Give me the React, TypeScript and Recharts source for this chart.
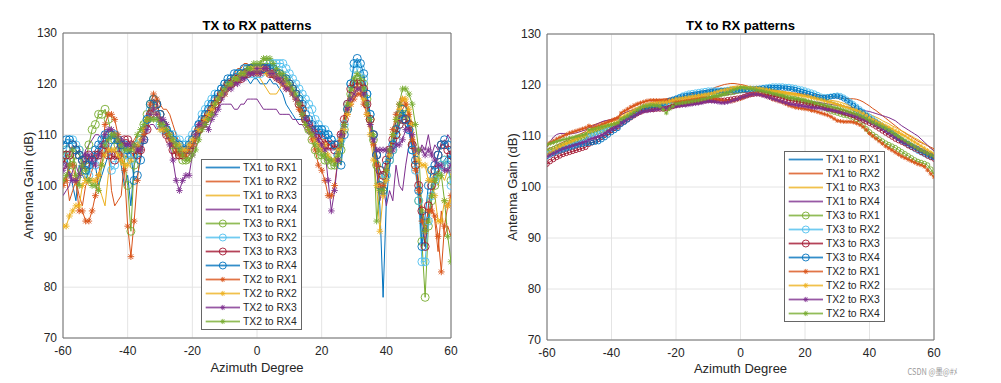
import React from 'react';
import { LineChart, Line, XAxis, YAxis, CartesianGrid, ReferenceArea } from 'recharts';

const FONT = '"Liberation Sans", Arial, Helvetica, sans-serif';

const degrees = [
  -60, -59, -58, -57, -56, -55, -54, -53, -52, -51,
  -50, -49, -48, -47, -46, -45, -44, -43, -42, -41,
  -40, -39, -38, -37, -36, -35, -34, -33, -32, -31,
  -30, -29, -28, -27, -26, -25, -24, -23, -22, -21,
  -20, -19, -18, -17, -16, -15, -14, -13, -12, -11,
  -10, -9, -8, -7, -6, -5, -4, -3, -2, -1,
  0, 1, 2, 3, 4, 5, 6, 7, 8, 9,
  10, 11, 12, 13, 14, 15, 16, 17, 18, 19,
  20, 21, 22, 23, 24, 25, 26, 27, 28, 29,
  30, 31, 32, 33, 34, 35, 36, 37, 38, 39,
  40, 41, 42, 43, 44, 45, 46, 47, 48, 49,
  50, 51, 52, 53, 54, 55, 56, 57, 58, 59,
  60,
];

const seriesNames = [
  'TX1 to RX1', 'TX1 to RX2', 'TX1 to RX3', 'TX1 to RX4',
  'TX3 to RX1', 'TX3 to RX2', 'TX3 to RX3', 'TX3 to RX4',
  'TX2 to RX1', 'TX2 to RX2', 'TX2 to RX3', 'TX2 to RX4',
];
const seriesColors = [
  '#0072BD', '#D95319', '#EDB120', '#7E2F8E',
  '#77AC30', '#4DBEEE', '#A2142F', '#0072BD',
  '#D95319', '#EDB120', '#7E2F8E', '#77AC30',
];
const seriesMarkers = [
  'none', 'none', 'none', 'none',
  'circle', 'circle', 'circle', 'circle',
  'star', 'star', 'star', 'star',
];

const xTicks = [-60, -40, -20, 0, 20, 40, 60];
const yTicks = [70, 80, 90, 100, 110, 120, 130];

// ---------- Left panel (raw patterns) ----------
const leftTx1Rx1 = [
  104, 106, 103, 100, 97, 104, 102, 101, 103, 105,
  104, 100, 102, 104, 106, 108, 109, 108, 104, 100,
  102, 96, 104, 106, 108, 111, 114, 116, 118, 117,
  113, 110, 110, 109, 108, 107, 106, 107, 108, 108,
  109, 110, 112, 113, 114, 115, 116, 117, 118, 119,
  119, 119, 120, 120, 121, 121, 121, 121, 120, 121,
  121, 120, 120, 120, 121, 120, 120, 119, 118, 116,
  115, 114, 113, 113, 113, 112, 112, 111, 110, 110,
  110, 110, 109, 108, 107, 108, 110, 113, 116, 119,
  121, 122, 121, 119, 116, 113, 109, 104, 96, 78,
  97, 104, 108, 110, 112, 114, 114, 111, 108, 104,
  98, 92, 88, 93, 98, 102, 103, 104, 105, 106,
  105,
];
const leftTx1Rx2 = [
  100, 102, 97, 99, 101, 98, 96, 100, 101, 103,
  105, 107, 108, 110, 107, 99, 96, 97, 98, 105,
  106, 108, 109, 110, 111, 112, 113, 115, 116, 117,
  116, 115, 115, 114, 112, 110, 108, 107, 106, 107,
  108, 110, 111, 112, 113, 114, 115, 116, 117, 118,
  119, 120, 121, 122, 123, 123, 124, 124, 123, 123,
  123, 123, 122, 122, 122, 121, 121, 120, 120, 119,
  119, 118, 117, 116, 115, 114, 112, 111, 110, 110,
  109, 109, 108, 108, 107, 108, 111, 114, 117, 119,
  120, 120, 120, 119, 116, 113, 109, 104, 100, 98,
  101, 105, 109, 111, 113, 115, 116, 114, 110, 106,
  101, 96, 92, 95, 96, 93, 87, 95, 90, 92,
  90,
];
const leftTx1Rx3 = [
  101, 102, 103, 102, 100, 101, 103, 101, 100, 100,
  101, 100, 98, 96, 102, 106, 107, 106, 104, 105,
  107, 106, 106, 107, 109, 110, 111, 113, 115, 116,
  114, 112, 111, 110, 109, 108, 108, 107, 107, 108,
  109, 110, 112, 113, 114, 115, 116, 117, 118, 119,
  119, 120, 120, 121, 121, 121, 122, 122, 122, 122,
  122, 121, 120, 119, 118, 118, 118, 119, 120, 120,
  119, 118, 117, 115, 113, 112, 111, 111, 110, 108,
  107, 106, 106, 105, 105, 106, 108, 111, 114, 117,
  119, 120, 119, 118, 116, 113, 110, 106, 102, 101,
  103, 106, 108, 111, 114, 116, 116, 113, 109, 105,
  105, 104, 104, 103, 102, 101, 100, 102, 101, 103,
  102,
];
const leftTx1Rx4 = [
  98, 99, 100, 103, 104, 102, 105, 107, 108, 109,
  110, 110, 109, 108, 107, 106, 107, 108, 109, 108,
  107, 106, 106, 107, 108, 110, 111, 112, 112, 111,
  112, 113, 112, 111, 110, 109, 108, 107, 107, 107,
  108, 109, 110, 111, 112, 113, 114, 114, 115, 116,
  116, 116, 116, 115, 115, 116, 116, 117, 117, 117,
  117, 116, 115, 115, 115, 115, 115, 114, 114, 114,
  114, 113, 113, 112, 112, 111, 110, 110, 109, 109,
  108, 108, 107, 107, 107, 108, 110, 112, 114, 116,
  117, 118, 118, 117, 114, 111, 108, 103, 97, 100,
  96, 99, 97, 104, 100, 99, 104, 108, 109, 107,
  106, 108, 107, 110, 106, 108, 107, 108, 108, 110,
  109,
];
const leftTx3Rx1 = [
  106, 107, 105, 104, 106, 107, 103, 105, 108, 111,
  112, 114, 114, 115, 113, 110, 109, 108, 107, 105,
  100, 91, 104, 107, 109, 112, 114, 116, 117, 116,
  114, 112, 111, 110, 108, 107, 106, 105, 105, 106,
  107, 109, 111, 112, 113, 114, 115, 116, 117, 118,
  119, 120, 120, 121, 121, 122, 122, 122, 123, 123,
  123, 123, 124, 124, 124, 123, 122, 122, 121, 121,
  120, 119, 118, 117, 115, 113, 111, 109, 107, 106,
  106, 105, 105, 104, 104, 105, 107, 111, 115, 118,
  120, 121, 121, 120, 117, 113, 109, 104, 100, 99,
  102, 105, 107, 110, 113, 115, 114, 112, 108, 104,
  97, 89, 78, 92, 97, 100, 102, 104, 105, 104,
  101,
];
const leftTx3Rx2 = [
  105, 107, 109, 109, 108, 107, 105, 104, 102, 105,
  104, 106, 108, 109, 107, 103, 104, 106, 107, 107,
  106, 105, 106, 108, 109, 111, 113, 115, 116, 114,
  112, 111, 111, 110, 110, 109, 109, 108, 108, 109,
  110, 111, 112, 114, 115, 116, 117, 118, 118, 119,
  120, 120, 121, 121, 122, 122, 122, 122, 122, 122,
  122, 122, 123, 123, 124, 124, 124, 124, 124, 123,
  122, 121, 120, 119, 118, 117, 116, 115, 113, 112,
  111, 111, 110, 109, 108, 108, 109, 112, 116, 120,
  123, 124, 123, 121, 118, 114, 110, 106, 103, 101,
  102, 105, 107, 109, 112, 113, 113, 111, 107, 103,
  97, 85, 85, 93, 98, 101, 103, 104, 105, 104,
  100,
];
const leftTx3Rx3 = [
  104, 106, 106, 108, 107, 106, 105, 104, 106, 105,
  106, 106, 107, 108, 106, 106, 105, 106, 108, 109,
  109, 108, 107, 106, 107, 109, 111, 114, 116, 116,
  114, 112, 110, 109, 107, 106, 106, 106, 107, 107,
  108, 110, 111, 112, 113, 114, 115, 116, 117, 118,
  119, 120, 120, 121, 121, 121, 122, 122, 123, 123,
  123, 123, 123, 123, 122, 122, 122, 121, 121, 120,
  120, 119, 118, 116, 115, 113, 112, 111, 110, 110,
  109, 108, 108, 108, 107, 108, 110, 113, 116, 119,
  120, 120, 120, 119, 116, 113, 110, 106, 103, 102,
  105, 107, 109, 110, 112, 113, 113, 112, 108, 104,
  100, 95, 88, 96, 100, 103, 106, 108, 108, 107,
  106,
];
const leftTx3Rx4 = [
  108, 109, 109, 108, 107, 106, 105, 103, 104, 105,
  107, 108, 109, 110, 110, 109, 110, 109, 108, 108,
  107, 106, 101, 102, 105, 109, 113, 116, 117, 116,
  114, 112, 111, 110, 109, 108, 108, 107, 107, 108,
  109, 110, 112, 113, 114, 115, 116, 117, 118, 119,
  120, 121, 121, 122, 122, 122, 123, 123, 123, 123,
  123, 123, 123, 123, 123, 123, 122, 122, 121, 121,
  120, 119, 118, 117, 116, 114, 113, 112, 111, 111,
  111, 110, 110, 109, 108, 106, 104, 110, 115, 120,
  124, 125, 124, 122, 118, 114, 110, 106, 100, 99,
  104, 106, 108, 111, 114, 115, 113, 111, 107, 105,
  99, 88, 94, 100, 103, 104, 106, 108, 109, 108,
  105,
];
const leftTx2Rx1 = [
  100, 101, 104, 104, 101, 95, 95, 93, 93, 95,
  98, 102, 106, 112, 114, 114, 113, 110, 106, 103,
  92, 86, 93, 101, 107, 110, 113, 116, 118, 117,
  113, 111, 110, 109, 108, 107, 106, 106, 106, 107,
  108, 109, 111, 112, 113, 114, 115, 116, 117, 118,
  118, 119, 120, 120, 121, 121, 122, 122, 122, 122,
  122, 122, 123, 123, 122, 122, 121, 121, 120, 119,
  119, 118, 117, 115, 114, 112, 111, 109, 107, 104,
  103, 101, 98, 98, 100, 105, 110, 112, 114, 116,
  117, 118, 118, 116, 114, 112, 108, 104, 100, 100,
  103, 107, 111, 114, 116, 117, 116, 114, 109, 103,
  99, 93, 91, 95, 95, 94, 90, 83, 92, 96,
  98,
];
const leftTx2Rx2 = [
  92, 92, 94, 95, 96, 96, 100, 101, 101, 101,
  101, 102, 104, 106, 107, 107, 107, 106, 105, 104,
  104, 105, 107, 108, 109, 111, 113, 114, 115, 114,
  111, 111, 111, 110, 109, 108, 108, 107, 107, 108,
  109, 110, 111, 112, 113, 114, 115, 116, 117, 118,
  118, 119, 120, 121, 121, 122, 122, 122, 123, 123,
  123, 123, 123, 122, 122, 122, 121, 121, 120, 120,
  119, 118, 117, 116, 114, 112, 111, 110, 109, 108,
  107, 108, 106, 105, 105, 107, 109, 111, 114, 116,
  118, 119, 119, 117, 114, 110, 105, 100, 91, 98,
  101, 106, 110, 113, 115, 117, 117, 115, 112, 107,
  105, 104, 104, 101, 101, 98, 93, 93, 97, 96,
  97,
];
const leftTx2Rx3 = [
  103, 104, 102, 101, 101, 102, 104, 106, 106, 105,
  104, 106, 108, 110, 111, 111, 110, 109, 109, 108,
  108, 108, 108, 107, 107, 109, 111, 114, 115, 114,
  113, 113, 112, 108, 105, 101, 99, 101, 102, 102,
  106, 110, 112, 112, 112, 111, 113, 114, 115, 117,
  118, 119, 119, 120, 120, 121, 121, 122, 122, 122,
  123, 122, 123, 123, 122, 122, 121, 121, 120, 119,
  119, 118, 117, 116, 114, 113, 112, 111, 110, 109,
  108, 107, 101, 95, 99, 105, 110, 112, 115, 117,
  118, 119, 119, 118, 116, 112, 109, 107, 107, 107,
  107, 107, 107, 108, 108, 109, 111, 111, 110, 107,
  107, 107, 106, 107, 106, 105, 104, 104, 103, 103,
  104,
];
const leftTx2Rx4 = [
  101, 102, 104, 107, 102, 100, 104, 103, 101, 100,
  100, 99, 104, 108, 109, 110, 110, 109, 108, 107,
  107, 107, 108, 110, 111, 112, 113, 113, 113, 113,
  112, 112, 111, 110, 109, 108, 107, 106, 105, 105,
  106, 107, 109, 111, 112, 113, 114, 116, 117, 118,
  119, 120, 120, 121, 121, 122, 122, 123, 123, 124,
  124, 124, 125, 125, 125, 124, 123, 122, 122, 121,
  120, 119, 118, 116, 114, 112, 111, 110, 108, 107,
  106, 106, 105, 105, 104, 106, 108, 112, 116, 119,
  121, 122, 121, 119, 116, 113, 110, 93, 99, 99,
  103, 107, 110, 113, 116, 119, 119, 118, 116, 112,
  107, 95, 91, 93, 98, 101, 102, 102, 97, 90,
  85,
];

// ---------- Right panel (calibrated patterns) ----------
const rightTx1Rx1 = [
  106.5, 106.8, 107.1, 107.4, 107.6, 107.9, 108.1, 108.4, 108.6, 108.8,
  109.0, 109.2, 109.4, 110.6, 110.8, 111.0, 111.2, 111.4, 111.6, 111.8,
  112.0, 112.2, 112.4, 113.5, 113.8, 114.1, 114.4, 114.7, 115.0, 115.3,
  115.6, 115.8, 115.9, 116.0, 116.1, 116.2, 116.3, 116.6, 116.9, 117.1,
  117.3, 117.5, 117.7, 117.9, 118.1, 118.3, 118.4, 118.5, 118.6, 118.7,
  118.8, 118.9, 119.0, 119.1, 119.2, 119.3, 119.3, 119.4, 119.4, 119.5,
  119.5, 119.5, 119.4, 119.3, 119.3, 119.3, 119.3, 119.4, 119.4, 119.5,
  119.5, 119.5, 119.4, 119.4, 119.3, 119.2, 119.1, 118.9, 118.8, 118.6,
  118.5, 118.3, 118.0, 117.8, 117.6, 117.3, 117.1, 116.9, 116.7, 116.5,
  116.3, 116.1, 115.9, 115.6, 115.3, 115.0, 114.6, 114.2, 113.8, 113.4,
  113.0, 112.6, 112.2, 111.8, 111.4, 111.0, 110.6, 110.2, 109.8, 109.4,
  109.0, 108.7, 108.3, 108.0, 107.6, 107.3, 107.0, 106.7, 106.4, 106.1,
  105.8,
];
const rightTx1Rx2 = [
  107.3, 107.6, 107.9, 108.2, 108.5, 108.8, 109.1, 109.4, 109.7, 110.0,
  110.3, 110.6, 110.9, 111.9, 112.1, 112.3, 112.5, 112.7, 112.9, 113.1,
  113.3, 113.5, 113.7, 114.6, 114.9, 115.2, 115.5, 115.8, 116.1, 116.4,
  116.7, 116.9, 117.0, 117.1, 117.1, 117.1, 117.2, 117.3, 117.4, 117.5,
  117.6, 117.7, 117.8, 117.9, 118.1, 118.3, 118.5, 118.7, 118.8, 118.9,
  119.0, 119.2, 119.5, 119.7, 119.9, 120.1, 120.2, 120.3, 120.3, 120.2,
  120.1, 120.0, 119.8, 119.6, 119.5, 119.5, 119.4, 119.3, 119.2, 119.1,
  119.0, 118.9, 118.8, 118.7, 118.6, 118.5, 118.4, 118.4, 118.3, 118.3,
  118.2, 118.2, 118.1, 118.1, 118.0, 118.0, 117.9, 117.8, 117.7, 117.6,
  117.5, 117.4, 117.4, 117.4, 117.3, 117.3, 117.2, 117.0, 116.7, 116.3,
  115.9, 115.4, 115.0, 114.5, 114.0, 113.5, 113.0, 112.5, 112.0, 111.5,
  111.0, 110.6, 110.2, 109.8, 109.4, 109.0, 108.7, 108.4, 108.1, 107.8,
  107.5,
];
const rightTx1Rx3 = [
  107.0, 107.3, 107.6, 107.9, 108.2, 108.5, 108.7, 109.0, 109.3, 109.6,
  109.9, 110.2, 110.5, 111.2, 111.4, 111.6, 111.9, 112.1, 112.3, 112.6,
  112.8, 113.0, 113.2, 114.1, 114.4, 114.7, 115.0, 115.3, 115.6, 115.9,
  116.2, 116.4, 116.5, 116.6, 116.7, 116.8, 116.9, 117.0, 117.1, 117.3,
  117.4, 117.5, 117.6, 117.7, 117.8, 117.9, 118.0, 118.1, 118.2, 118.3,
  118.4, 118.5, 118.7, 118.9, 119.1, 119.3, 119.5, 119.6, 119.7, 119.8,
  119.8, 119.8, 119.7, 119.7, 119.6, 119.6, 119.5, 119.4, 119.3, 119.2,
  119.0, 118.9, 118.8, 118.7, 118.6, 118.5, 118.4, 118.3, 118.2, 118.1,
  118.0, 117.9, 117.8, 117.6, 117.5, 117.4, 117.3, 117.2, 117.0, 116.9,
  116.8, 116.6, 116.4, 116.2, 115.9, 115.6, 115.3, 115.0, 114.8, 114.5,
  114.3, 114.0, 113.7, 113.4, 113.0, 112.7, 112.4, 112.0, 111.7, 111.3,
  111.0, 110.7, 110.3, 110.0, 109.6, 109.3, 108.9, 108.5, 108.1, 107.6,
  107.2,
];
const rightTx1Rx4 = [
  107.8, 108.9, 109.8, 110.3, 110.5, 110.5, 110.4, 110.4, 110.5, 110.6,
  110.8, 111.0, 111.2, 111.6, 111.9, 112.2, 112.5, 112.8, 113.0, 113.1,
  113.2, 113.3, 113.4, 114.2, 114.5, 114.8, 115.0, 115.2, 115.4, 115.6,
  115.8, 115.9, 116.0, 116.0, 116.1, 116.2, 116.2, 116.3, 116.4, 116.5,
  116.6, 116.7, 116.8, 116.9, 117.0, 117.0, 117.1, 117.2, 117.3, 117.4,
  117.5, 117.6, 117.7, 117.8, 117.9, 118.0, 118.1, 118.2, 118.3, 118.4,
  118.5, 118.5, 118.5, 118.4, 118.4, 118.3, 118.3, 118.2, 118.1, 118.0,
  118.0, 117.9, 117.8, 117.7, 117.6, 117.5, 117.4, 117.3, 117.2, 117.1,
  117.0, 116.9, 116.8, 116.7, 116.6, 116.5, 116.4, 116.3, 116.2, 116.1,
  116.0, 115.9, 115.8, 115.7, 115.6, 115.5, 115.4, 115.2, 115.1, 114.9,
  114.8, 114.6, 114.4, 114.2, 114.0, 113.8, 113.6, 113.3, 113.0, 112.5,
  112.0, 111.6, 111.2, 110.8, 110.4, 110.0, 109.4, 108.8, 108.2, 107.6,
  107.1,
];
const rightTx3Rx1 = [
  107.0, 107.3, 107.5, 107.8, 108.0, 108.2, 108.5, 108.7, 108.9, 109.2,
  109.4, 109.6, 109.8, 110.4, 110.6, 110.8, 111.0, 111.2, 111.4, 111.6,
  111.8, 112.0, 112.2, 113.0, 113.3, 113.6, 113.9, 114.2, 114.6, 114.9,
  115.2, 115.4, 115.5, 115.6, 115.7, 115.8, 115.9, 115.6, 116.0, 116.2,
  116.4, 116.5, 116.6, 116.7, 116.8, 116.9, 117.0, 117.1, 117.3, 117.4,
  117.6, 117.8, 117.9, 118.0, 118.2, 118.3, 118.4, 118.5, 118.6, 118.8,
  118.9, 119.0, 119.1, 119.2, 119.2, 119.2, 119.1, 119.0, 118.9, 118.7,
  118.5, 118.4, 118.2, 118.0, 117.8, 117.6, 117.4, 117.3, 117.1, 117.0,
  116.8, 116.6, 116.4, 116.2, 116.0, 115.8, 115.5, 115.2, 114.9, 114.7,
  114.5, 114.3, 114.1, 114.0, 113.8, 113.6, 113.2, 112.7, 112.1, 111.4,
  110.8, 110.3, 109.9, 109.4, 109.0, 108.6, 108.3, 108.0, 107.7, 107.3,
  106.9, 106.5, 106.1, 105.7, 105.3, 105.0, 104.8, 104.6, 104.3, 103.5,
  102.5,
];
const rightTx3Rx2 = [
  106.5, 106.7, 106.9, 107.1, 107.3, 107.5, 107.7, 107.9, 108.1, 108.3,
  108.5, 108.7, 108.9, 109.8, 110.0, 110.2, 110.4, 110.7, 111.0, 111.2,
  111.5, 111.8, 112.1, 113.0, 113.4, 113.8, 114.2, 114.6, 115.0, 115.4,
  115.8, 115.9, 116.0, 116.0, 116.0, 116.0, 116.1, 116.4, 116.8, 117.1,
  117.4, 117.7, 118.0, 118.2, 118.4, 118.5, 118.6, 118.7, 118.8, 118.9,
  119.0, 119.0, 119.0, 119.0, 119.0, 119.0, 119.1, 119.1, 119.1, 119.2,
  119.2, 119.2, 119.2, 119.3, 119.3, 119.3, 119.4, 119.5, 119.6, 119.7,
  119.8, 119.8, 119.8, 119.8, 119.7, 119.7, 119.6, 119.5, 119.3, 119.2,
  119.0, 118.8, 118.6, 118.4, 118.1, 117.8, 117.7, 117.7, 117.8, 117.9,
  118.0, 117.9, 117.6, 117.2, 116.8, 116.3, 115.8, 115.3, 114.8, 114.3,
  113.8, 113.4, 112.9, 112.4, 112.0, 111.5, 111.0, 110.5, 110.0, 109.5,
  109.0, 108.6, 108.2, 107.8, 107.4, 107.0, 106.7, 106.4, 106.1, 105.9,
  105.8,
];
const rightTx3Rx3 = [
  104.5, 105.0, 105.4, 105.8, 106.1, 106.4, 106.6, 106.8, 107.0, 107.2,
  107.4, 107.6, 107.8, 108.4, 108.7, 109.0, 109.4, 109.8, 110.2, 110.7,
  111.1, 111.5, 111.8, 112.4, 112.8, 113.2, 113.6, 114.0, 114.4, 114.7,
  115.0, 115.1, 115.2, 115.2, 115.3, 115.3, 115.3, 115.4, 115.6, 115.8,
  116.0, 116.1, 116.2, 116.3, 116.4, 116.5, 116.6, 116.7, 116.8, 116.9,
  117.0, 117.0, 117.0, 117.0, 117.0, 117.0, 117.1, 117.2, 117.3, 117.4,
  117.5, 117.7, 117.9, 118.1, 118.2, 118.3, 118.3, 118.2, 118.1, 118.0,
  117.8, 117.7, 117.5, 117.4, 117.2, 117.0, 116.9, 116.8, 116.7, 116.6,
  116.5, 116.4, 116.2, 116.1, 115.9, 115.8, 115.6, 115.4, 115.3, 115.1,
  115.0, 114.8, 114.6, 114.4, 114.2, 114.0, 113.7, 113.4, 113.1, 112.8,
  112.5, 112.2, 111.8, 111.4, 111.0, 110.6, 110.2, 109.8, 109.4, 109.1,
  108.8, 108.5, 108.1, 107.8, 107.5, 107.2, 106.8, 106.5, 106.1, 105.8,
  105.5,
];
const rightTx3Rx4 = [
  106.0, 106.3, 106.6, 106.9, 107.1, 107.3, 107.5, 107.7, 107.9, 108.1,
  108.3, 108.4, 108.5, 108.6, 108.7, 108.8, 108.9, 109.3, 109.7, 110.2,
  110.7, 111.1, 111.5, 112.3, 112.7, 113.2, 113.7, 114.2, 114.7, 115.1,
  115.5, 115.7, 115.9, 116.0, 116.1, 116.2, 116.4, 116.7, 117.0, 117.2,
  117.4, 117.6, 117.8, 117.9, 118.0, 118.1, 118.2, 118.3, 118.4, 118.5,
  118.6, 118.7, 118.8, 118.8, 118.9, 118.9, 118.9, 119.0, 119.0, 119.0,
  119.0, 119.1, 119.1, 119.2, 119.2, 119.3, 119.3, 119.4, 119.4, 119.5,
  119.5, 119.5, 119.5, 119.4, 119.4, 119.3, 119.2, 119.1, 118.9, 118.7,
  118.5, 118.3, 118.1, 117.9, 117.7, 117.5, 117.5, 117.6, 117.7, 117.8,
  117.8, 117.6, 117.3, 116.9, 116.5, 116.0, 115.5, 115.0, 114.5, 114.0,
  113.5, 113.1, 112.7, 112.3, 111.9, 111.5, 111.0, 110.6, 110.1, 109.6,
  109.2, 108.8, 108.5, 108.1, 107.8, 107.5, 107.1, 106.8, 106.4, 106.1,
  105.8,
];
const rightTx2Rx1 = [
  108.3, 108.7, 109.0, 109.4, 109.7, 110.0, 110.3, 110.6, 110.8, 111.0,
  111.2, 111.4, 111.6, 112.0, 111.6, 111.8, 112.0, 112.3, 112.5, 112.8,
  113.0, 113.3, 113.6, 114.5, 114.9, 115.3, 115.7, 116.0, 116.3, 116.5,
  116.7, 116.9, 117.0, 117.0, 117.0, 117.0, 117.0, 117.0, 116.9, 116.9,
  116.8, 116.8, 116.9, 117.0, 117.1, 117.2, 117.3, 117.4, 117.5, 117.5,
  117.5, 117.4, 117.3, 117.1, 117.0, 116.8, 116.8, 116.8, 116.9, 117.1,
  117.3, 117.6, 117.9, 118.1, 118.3, 118.3, 118.2, 118.0, 117.8, 117.5,
  117.2, 117.0, 116.8, 116.6, 116.3, 116.0, 115.8, 115.6, 115.5, 115.4,
  115.3, 115.2, 115.0, 114.9, 114.7, 114.5, 114.3, 114.1, 113.8, 113.4,
  113.0, 112.9, 112.8, 112.8, 112.8, 112.7, 112.5, 112.2, 111.8, 111.2,
  110.5, 110.0, 109.5, 109.0, 108.5, 108.0, 107.6, 107.2, 106.8, 106.4,
  106.0, 105.7, 105.4, 105.1, 104.8, 104.5, 104.3, 104.0, 103.3, 102.6,
  102.0,
];
const rightTx2Rx2 = [
  106.3, 106.7, 107.1, 107.5, 107.9, 108.2, 108.5, 108.8, 109.1, 109.4,
  109.7, 110.0, 110.2, 110.9, 111.1, 111.3, 111.5, 111.7, 111.9, 112.1,
  112.3, 112.5, 112.7, 113.6, 113.9, 114.3, 114.7, 115.0, 115.3, 115.6,
  115.9, 116.1, 116.2, 116.3, 116.4, 116.5, 116.6, 116.6, 116.8, 117.0,
  117.2, 117.3, 117.4, 117.5, 117.6, 117.7, 117.8, 117.9, 118.0, 118.1,
  118.2, 118.3, 118.5, 118.7, 118.9, 119.0, 119.1, 119.3, 119.4, 119.5,
  119.5, 119.5, 119.5, 119.5, 119.4, 119.4, 119.3, 119.2, 119.1, 119.0,
  118.8, 118.7, 118.6, 118.5, 118.4, 118.3, 118.2, 118.1, 118.0, 117.9,
  117.8, 117.7, 117.5, 117.4, 117.2, 117.1, 116.9, 116.7, 116.6, 116.4,
  116.2, 116.0, 115.8, 115.6, 115.4, 115.2, 115.0, 114.7, 114.4, 114.0,
  113.5, 113.2, 112.9, 112.6, 112.3, 112.0, 111.7, 111.4, 111.0, 110.7,
  110.3, 110.0, 109.6, 109.2, 108.8, 108.4, 108.0, 107.6, 107.2, 106.8,
  106.5,
];
const rightTx2Rx3 = [
  106.0, 106.3, 106.6, 106.9, 107.2, 107.5, 107.7, 107.9, 108.1, 108.3,
  108.5, 108.7, 108.9, 109.3, 109.5, 109.7, 109.9, 110.2, 110.5, 110.9,
  111.3, 111.6, 111.9, 112.5, 112.9, 113.3, 113.7, 114.0, 114.3, 114.6,
  114.8, 114.9, 115.0, 115.1, 115.2, 115.3, 115.4, 115.5, 115.6, 115.7,
  115.8, 115.9, 116.0, 116.0, 116.1, 116.2, 116.3, 116.4, 116.5, 116.7,
  116.8, 116.8, 116.7, 116.6, 116.5, 116.5, 116.6, 116.8, 117.0, 117.2,
  117.5, 117.7, 117.9, 118.1, 118.2, 118.2, 118.1, 117.9, 117.7, 117.5,
  117.3, 117.1, 116.9, 116.7, 116.5, 116.3, 116.2, 116.1, 116.0, 115.9,
  115.8, 115.7, 115.6, 115.5, 115.5, 115.4, 115.3, 115.2, 115.1, 115.0,
  114.8, 114.7, 114.5, 114.4, 114.2, 114.0, 113.8, 113.5, 113.3, 113.0,
  112.8, 112.5, 112.1, 111.8, 111.4, 111.0, 110.6, 110.2, 109.8, 109.4,
  109.0, 108.7, 108.4, 108.1, 107.8, 107.5, 107.2, 106.9, 106.6, 106.3,
  106.0,
];
const rightTx2Rx4 = [
  108.3, 108.5, 108.7, 108.9, 109.1, 109.3, 109.4, 109.6, 109.7, 109.9,
  110.0, 110.2, 110.4, 111.2, 111.3, 111.4, 111.6, 111.8, 111.9, 112.1,
  112.2, 112.4, 112.6, 113.3, 113.6, 113.9, 114.3, 114.7, 115.1, 115.5,
  115.8, 115.9, 116.0, 116.0, 116.0, 115.8, 115.2, 114.5, 115.3, 115.8,
  116.3, 116.4, 116.5, 116.6, 116.7, 116.8, 116.9, 117.0, 117.2, 117.3,
  117.5, 117.6, 117.8, 117.9, 118.1, 118.3, 118.5, 118.8, 119.1, 119.3,
  119.5, 119.5, 119.4, 119.3, 119.2, 119.0, 118.9, 118.8, 118.6, 118.5,
  118.3, 118.2, 118.0, 117.9, 117.7, 117.5, 117.4, 117.3, 117.2, 117.1,
  117.0, 116.8, 116.7, 116.5, 116.4, 116.2, 116.1, 115.9, 115.8, 115.6,
  115.5, 115.3, 115.1, 114.9, 114.7, 114.5, 114.3, 114.0, 113.7, 113.4,
  113.0, 112.7, 112.4, 112.1, 111.8, 111.5, 111.1, 110.7, 110.3, 109.9,
  109.5, 109.1, 108.7, 108.3, 107.9, 107.5, 107.2, 106.9, 106.6, 106.3,
  106.0,
];

const leftSeries = [
  leftTx1Rx1, leftTx1Rx2, leftTx1Rx3, leftTx1Rx4,
  leftTx3Rx1, leftTx3Rx2, leftTx3Rx3, leftTx3Rx4,
  leftTx2Rx1, leftTx2Rx2, leftTx2Rx3, leftTx2Rx4,
];
const rightSeries = [
  rightTx1Rx1, rightTx1Rx2, rightTx1Rx3, rightTx1Rx4,
  rightTx3Rx1, rightTx3Rx2, rightTx3Rx3, rightTx3Rx4,
  rightTx2Rx1, rightTx2Rx2, rightTx2Rx3, rightTx2Rx4,
];

function MarkerShape({ cx, cy, kind, color, size }: any) {
  if (cx == null || cy == null || isNaN(cx) || isNaN(cy)) return <g />;
  if (kind === 'circle') {
    return <circle cx={cx} cy={cy} r={size} fill="none" stroke={color} strokeWidth={0.9} />;
  }
  if (kind === 'star') {
    const d = size * 0.72;
    return (
      <g stroke={color} strokeWidth={0.9}>
        <line x1={cx - size} y1={cy} x2={cx + size} y2={cy} />
        <line x1={cx} y1={cy - size} x2={cx} y2={cy + size} />
        <line x1={cx - d} y1={cy - d} x2={cx + d} y2={cy + d} />
        <line x1={cx - d} y1={cy + d} x2={cx + d} y2={cy - d} />
      </g>
    );
  }
  return <g />;
}

const tickStyle = { fill: '#262626', fontSize: 12, fontFamily: FONT };

function Panel({ series, offsetLeft, width, margin, yAxisWidth, circleR, starR }: any) {
  const data = degrees.map((x, i) => {
    const row: any = { x };
    series.forEach((s: number[], k: number) => {
      row['s' + k] = s[i];
    });
    return row;
  });
  return (
    <div style={{ position: 'absolute', left: offsetLeft, top: 0 }}>
      <LineChart width={width} height={383} data={data} margin={margin}>
        <CartesianGrid stroke="#e4e4e4" strokeWidth={1} />
        <XAxis
          type="number"
          dataKey="x"
          domain={[-60, 60]}
          ticks={xTicks}
          interval={0}
          allowDataOverflow
          height={20}
          tickLine={false}
          axisLine={false}
          tickSize={6}
          tickMargin={2.5}
          tick={tickStyle}
        />
        <YAxis
          type="number"
          domain={[70, 130]}
          ticks={yTicks}
          interval={0}
          allowDataOverflow
          width={yAxisWidth}
          tickLine={false}
          axisLine={false}
          tickSize={4}
          tickMargin={2}
          tick={tickStyle}
        />
        {series.map((_: any, k: number) => (
          <Line
            key={k}
            type="linear"
            dataKey={'s' + k}
            stroke={seriesColors[k]}
            strokeWidth={1}
            isAnimationActive={false}
            activeDot={false}
            dot={
              seriesMarkers[k] === 'none'
                ? false
                : (p: any) => (
                    <MarkerShape
                      key={'d' + k + '-' + p.index}
                      cx={p.cx}
                      cy={p.cy}
                      kind={seriesMarkers[k]}
                      color={seriesColors[k]}
                      size={seriesMarkers[k] === 'circle' ? circleR : starR}
                    />
                  )
            }
          />
        ))}
        <ReferenceArea
          x1={-60}
          x2={60}
          y1={70}
          y2={130}
          fill="none"
          fillOpacity={0}
          stroke="#6e6e6e"
          strokeWidth={1}
          ifOverflow="visible"
        />
      </LineChart>
    </div>
  );
}

function LegendBox({ x, y }: any) {
  return (
    <g transform={`translate(${x},${y})`}>
      <rect x={0.5} y={0.5} width={100} height={170} fill="#ffffff" stroke="#666666" strokeWidth={1} />
      {seriesNames.map((n, i) => {
        const cy = 8.5 + i * 14;
        return (
          <g key={i}>
            <rect x={4.7} y={cy - 0.9} width={34.3} height={1.8} fill={seriesColors[i]} fillOpacity={0.8} stroke="none" />
            <MarkerShape
              cx={21.8}
              cy={cy}
              kind={seriesMarkers[i]}
              color={seriesColors[i]}
              size={seriesMarkers[i] === 'circle' ? 3.5 : 2.6}
            />
            <text x={42} y={cy + 3.7} fontSize={10.4} fill="#262626" fontFamily={FONT}>
              {n}
            </text>
          </g>
        );
      })}
    </g>
  );
}

export default function App() {
  return (
    <div style={{ position: 'absolute', left: 0, top: 0, width: 1001, height: 383, background: '#ffffff', overflow: 'hidden' }}>
      <Panel
        series={leftSeries}
        offsetLeft={0}
        width={500}
        margin={{ top: 33, right: 49, bottom: 25, left: 0 }}
        yAxisWidth={63}
        circleR={4}
        starR={3.3}
      />
      <Panel
        series={rightSeries}
        offsetLeft={500}
        width={501}
        margin={{ top: 34, right: 67, bottom: 23, left: 0 }}
        yAxisWidth={47}
        circleR={2.3}
        starR={2.2}
      />
      <svg width={1001} height={383} style={{ position: 'absolute', left: 0, top: 0, pointerEvents: 'none' }}>
        <g fontFamily={FONT} fill="#262626">
          <text x={257} y={29.5} textAnchor="middle" fontSize={13} fontWeight="bold" fill="#000000">TX to RX patterns</text>
          <text x={740.5} y={29.5} textAnchor="middle" fontSize={13} fontWeight="bold" fill="#000000">TX to RX patterns</text>
          <text x={257} y={372} textAnchor="middle" fontSize={13}>Azimuth Degree</text>
          <text x={740.5} y={373} textAnchor="middle" fontSize={13}>Azimuth Degree</text>
          <text x={32.5} y={185.5} textAnchor="middle" fontSize={13} transform="rotate(-90 32.5 185.5)">Antenna Gain (dB)</text>
          <text x={516.5} y={187} textAnchor="middle" fontSize={13} transform="rotate(-90 516.5 187)">Antenna Gain (dB)</text>
        </g>
        <LegendBox x={201} y={159} />
        <LegendBox x={784} y={151} />
        <text x={907.5} y={375} fontSize={9} fill="#9a9a9a" fontFamily={'"Noto Sans CJK SC", ' + FONT} textLength={50} lengthAdjust="spacingAndGlyphs">CSDN @墨@#ﾒ</text>
      </svg>
    </div>
  );
}
